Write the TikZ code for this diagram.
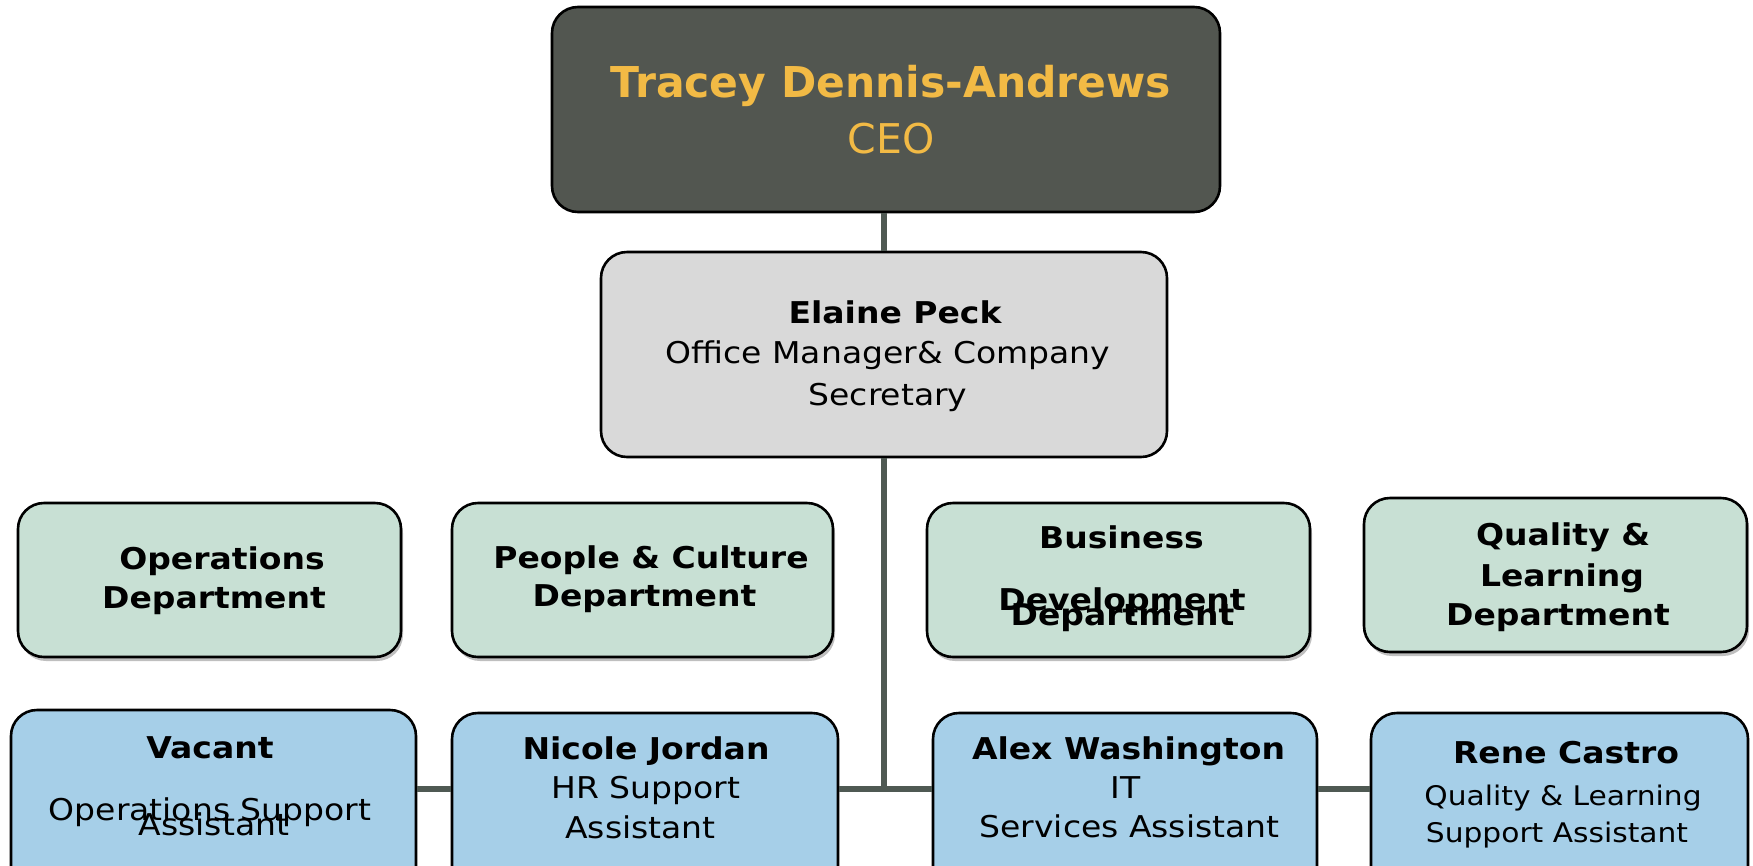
\documentclass[tikz,border=0pt]{standalone}
\usepackage{fontspec}
\setmainfont{DejaVu Sans}[FakeStretch=1.1]
\newfontfamily\ceofont{DejaVu Sans}
\usetikzlibrary{shadows,backgrounds}
\definecolor{ceofill}{HTML}{525650}
\definecolor{gold}{HTML}{F2BA45}
\definecolor{grayfill}{HTML}{D9D9D9}
\definecolor{deptfill}{HTML}{C8E0D4}
\definecolor{stafffill}{HTML}{A6CFE8}
\definecolor{linkcol}{HTML}{4F5953}
\begin{document}
\begin{tikzpicture}[x=1pt,y=-1pt,
  box/.style={draw=black, line width=2.6pt, rounded corners=26pt, inner sep=0pt},
  deptbox/.style={box, fill=deptfill, drop shadow={shadow xshift=2pt, shadow yshift=-4pt, opacity=0.25, fill=black}},
  staffbox/.style={box, fill=stafffill},
  link/.style={draw=linkcol, line width=6pt},
  txt/.style={anchor=base, inner sep=0pt},
  nameB/.style={txt, font=\bfseries\fontsize{30}{36}\selectfont},
  titleR/.style={txt, font=\fontsize{30}{36}\selectfont},
  titleS/.style={txt, font=\fontsize{27}{32}\selectfont}
]
\useasboundingbox (0,0) rectangle (1753,865);
\clip (0,0) rectangle (1753,865);

% boxes
\node[box, fill=ceofill, minimum width=668pt, minimum height=205pt] (ceo) at (886,109.5) {};
\node[box, fill=grayfill, minimum width=566pt, minimum height=205pt] (ep) at (884,354.5) {};

\node[deptbox, minimum width=383pt, minimum height=154pt] (ops) at (209.5,580) {};
\node[deptbox, minimum width=381pt, minimum height=154pt] (ppl) at (642.5,580) {};
\node[deptbox, minimum width=383pt, minimum height=154pt] (bus) at (1118.5,580) {};
\node[deptbox, minimum width=383pt, minimum height=154pt] (qual) at (1555.5,575) {};

\node[staffbox, minimum width=405pt, minimum height=200pt] (vac) at (213.5,810) {};
\node[staffbox, minimum width=386pt, minimum height=200pt] (nic) at (645,813) {};
\node[staffbox, minimum width=384pt, minimum height=200pt] (alex) at (1125,813) {};
\node[staffbox, minimum width=377pt, minimum height=200pt] (rene) at (1559.5,813) {};

% connectors
\coordinate (jn) at (884,789);
\draw[link] (ep.north |- ceo.south) -- (ep.north);
\draw[link] (ep.south) -- (jn);
\draw[link] (vac.east |- jn) -- (nic.west |- jn);
\draw[link] (nic.east |- jn) -- (alex.west |- jn);
\draw[link] (alex.east |- jn) -- (rene.west |- jn);

% texts
\node[txt, text=gold, font=\ceofont\bfseries\fontsize{42.5}{50}\selectfont] (ceoname) at (891,97) {Tracey Dennis-Andrews};
\node[txt, text=gold, font=\ceofont\fontsize{41}{48}\selectfont] (ceotitle) at (891,153) {CEO};

\node[nameB] (epname) at (895,323) {Elaine Peck};
\node[titleR] (ept1) at (888,363) {Office Manager\& Company};
\node[titleR] (ept2) at (888,405) {Secretary};

\node[nameB] (opsa) at (222,569) {Operations};
\node[nameB] (opsb) at (214,608) {Department};
\node[nameB] (ppla) at (651,568) {People \& Culture};
\node[nameB] (pplb) at (644.5,606) {Department};
\node[nameB] (busa) at (1121.5,548) {Business};
\node[nameB] (busb) at (1122,610) {Development};
\node[nameB] (busc) at (1122.5,625) {Department};
\node[nameB] (quala) at (1563,545) {Quality \&};
\node[nameB] (qualb) at (1562,586) {Learning};
\node[nameB] (qualc) at (1558,625) {Department};

\node[nameB] (vacn) at (210,758) {Vacant};
\node[titleR] (vact1) at (210,820) {Operations Support};
\node[titleR] (vact2) at (214,835) {Assistant};
\node[nameB] (nicn) at (646,759) {Nicole Jordan};
\node[titleR] (nict1) at (646,798) {HR Support};
\node[titleR] (nict2) at (640.5,838) {Assistant};
\node[nameB] (alexn) at (1128.5,759) {Alex Washington};
\node[titleR] (alext1) at (1125.5,798) {IT};
\node[titleR] (alext2) at (1129.5,837) {Services Assistant};
\node[nameB] (renen) at (1566,763) {Rene Castro};
\node[titleS] (renet1) at (1563,805) {Quality \& Learning};
\node[titleS] (renet2) at (1557,842) {Support Assistant};
\end{tikzpicture}
\end{document}
